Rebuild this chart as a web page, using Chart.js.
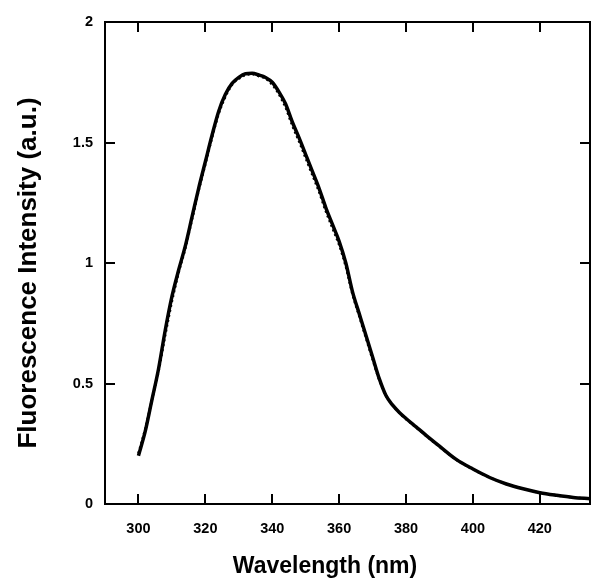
<!DOCTYPE html>
<html>
<head>
<meta charset="utf-8">
<script src="https://cdn.jsdelivr.net/npm/chart.js@4/dist/chart.umd.min.js"></script>
<style>
  html, body { margin: 0; padding: 0; background: #fff; }
  #wrap { width: 600px; height: 587px; position: relative; }
</style>
</head>
<body>
<div id="wrap"><canvas id="spectrum"></canvas></div>
<script>
// Emission spectrum
const wavelengths = [300, 302, 304, 306, 308, 310, 312, 314, 316, 318, 320, 322, 324, 326, 328, 330,
  332, 334, 336, 338, 340, 342, 344, 346, 348, 350, 352, 354, 356, 358, 360, 362, 364, 366, 368,
  370, 372, 374, 376, 378, 380, 383, 386, 390, 395, 400, 405, 410, 415, 420, 425, 430, 435];

const measured = [0.20, 0.30, 0.43, 0.56, 0.72, 0.86, 0.97, 1.07, 1.19, 1.31, 1.42, 1.53, 1.63, 1.70,
  1.745, 1.77, 1.785, 1.787, 1.78, 1.77, 1.75, 1.71, 1.66, 1.585, 1.52, 1.45, 1.38, 1.31, 1.23, 1.16,
  1.09, 1.00, 0.88, 0.79, 0.70, 0.61, 0.52, 0.45, 0.41, 0.38, 0.355, 0.32, 0.285, 0.24, 0.185, 0.145,
  0.11, 0.083, 0.063, 0.047, 0.036, 0.027, 0.022];

const fitted = [0.21, 0.31, 0.43, 0.55, 0.70, 0.84, 0.96, 1.06, 1.18, 1.30, 1.41, 1.52, 1.62, 1.69,
  1.74, 1.765, 1.78, 1.783, 1.775, 1.765, 1.74, 1.70, 1.645, 1.57, 1.505, 1.435, 1.365, 1.295, 1.215,
  1.145, 1.075, 0.985, 0.87, 0.78, 0.69, 0.60, 0.515, 0.45, 0.41, 0.378, 0.352, 0.318, 0.283, 0.238,
  0.184, 0.144, 0.11, 0.083, 0.063, 0.047, 0.036, 0.027, 0.022];

const xTicks = [300, 320, 340, 360, 380, 400, 420];
const yTicks = [0, 0.5, 1, 1.5, 2];

const FONT = '"Liberation Sans", Arial, sans-serif';

function toPoints(xs, ys) {
  return xs.map((x, i) => ({ x: x, y: ys[i] }));
}

// frame box, inward ticks on all four sides, and the axis titles
const framePlugin = {
  id: 'frame',
  afterDraw(chart) {
    const ctx = chart.ctx;
    const a = chart.chartArea;
    const xs = chart.scales.x, ys = chart.scales.y;
    ctx.save();
    ctx.strokeStyle = '#000';
    ctx.lineWidth = 2;
    ctx.strokeRect(a.left, a.top, a.right - a.left, a.bottom - a.top);
    ctx.beginPath();
    xTicks.forEach(v => {
      const px = Math.round(xs.getPixelForValue(v));
      ctx.moveTo(px, a.bottom); ctx.lineTo(px, a.bottom - 10);
      ctx.moveTo(px, a.top); ctx.lineTo(px, a.top + 10);
    });
    yTicks.forEach(v => {
      const py = Math.round(ys.getPixelForValue(v));
      ctx.moveTo(a.left, py); ctx.lineTo(a.left + 10, py);
      ctx.moveTo(a.right, py); ctx.lineTo(a.right - 10, py);
    });
    ctx.stroke();

    ctx.fillStyle = '#000';
    ctx.textAlign = 'center';
    ctx.textBaseline = 'middle';
    ctx.font = 'bold 23px ' + FONT;
    ctx.fillText('Wavelength (nm)', 325, 567);
    ctx.font = 'bold 26px ' + FONT;
    ctx.translate(29, 273);
    ctx.rotate(-Math.PI / 2);
    ctx.fillText('Fluorescence Intensity (a.u.)', 0, 0);
    ctx.restore();
  }
};

new Chart(document.getElementById('spectrum'), {
  type: 'line',
  data: {
    datasets: [
      {
        label: 'measured',
        data: toPoints(wavelengths, measured),
        borderColor: '#000',
        borderWidth: 3.5,
        pointRadius: 0,
        cubicInterpolationMode: 'monotone',
        fill: false
      },
      {
        label: 'fit',
        data: toPoints(wavelengths, fitted),
        borderColor: '#000',
        borderWidth: 2.5,
        borderDash: [2, 3],
        pointRadius: 0,
        cubicInterpolationMode: 'monotone',
        fill: false
      }
    ]
  },
  plugins: [framePlugin],
  options: {
    responsive: true,
    maintainAspectRatio: false,
    animation: false,
    layout: { padding: { left: 0, right: 10, top: 22, bottom: 0 } },
    plugins: {
      legend: { display: false },
      tooltip: { enabled: false }
    },
    scales: {
      x: {
        type: 'linear',
        min: 290,
        max: 435,
        grid: { display: false, drawTicks: false },
        border: { display: false },
        afterFit(scale) { scale.height = 83; },
        ticks: {
          stepSize: 20,
          includeBounds: false,
          padding: 16,
          color: '#000',
          font: { family: FONT, size: 14.5, weight: 'bold' },
          maxRotation: 0,
          callback: v => xTicks.includes(v) ? String(v) : ''
        }
      },
      y: {
        min: 0,
        max: 2,
        grid: { display: false, drawTicks: false },
        border: { display: false },
        afterFit(scale) { scale.width = 105; },
        ticks: {
          stepSize: 0.5,
          padding: 12,
          color: '#000',
          font: { family: FONT, size: 14.5, weight: 'bold' },
          callback: v => yTicks.includes(v) ? String(v) : ''
        }
      }
    }
  }
});
</script>
</body>
</html>
